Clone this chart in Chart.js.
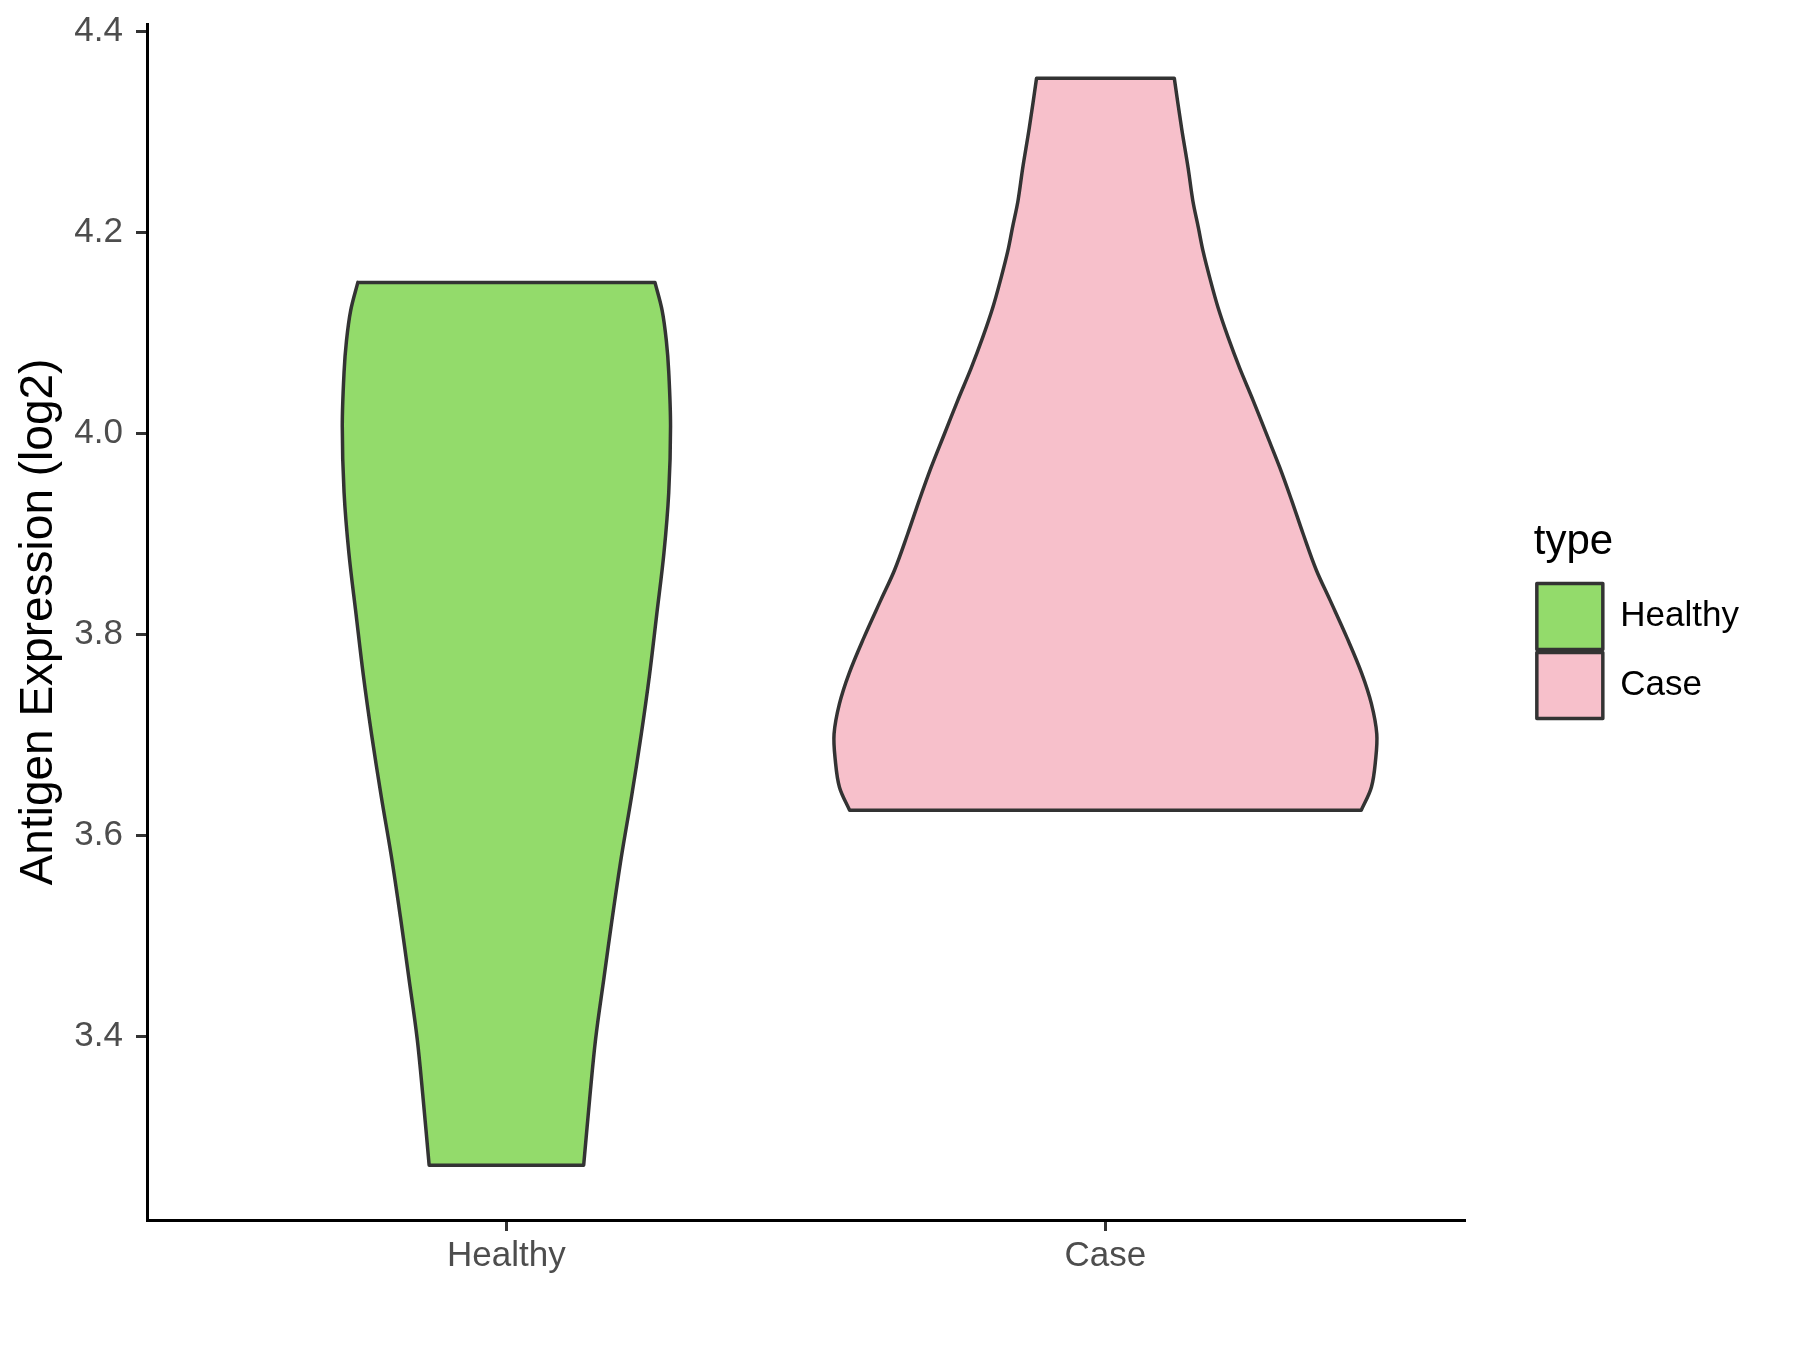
<!DOCTYPE html>
<html>
<head>
<meta charset="utf-8">
<title>Antigen Expression violin</title>
<script src="https://cdn.jsdelivr.net/npm/chart.js@4.4.1/dist/chart.umd.min.js"></script>
<style>
    html, body { margin: 0; padding: 0; background: #ffffff; }
    #wrap { width: 1800px; height: 1350px; }
</style>
</head>
<body>
<div id="wrap"><canvas id="violinCanvas" width="1800" height="1350"></canvas></div>
<script>
// groups on the x axis (position 1 and 2)
const groups = ['Healthy', 'Case'];
const groupPositions = [1, 2];

// violin outlines: y value (top to bottom) and half width in x units
const healthyY = [4.150, 4.122, 4.092, 4.061, 4.007, 3.941, 3.881, 3.820, 3.760, 3.700, 3.639, 3.579, 3.519, 3.459, 3.398, 3.338, 3.272];
const healthyHalfWidth = [0.248, 0.260, 0.267, 0.271, 0.274, 0.271, 0.263, 0.251, 0.239, 0.225, 0.209, 0.192, 0.177, 0.163, 0.149, 0.139, 0.129];

const caseY = [4.353, 4.304, 4.264, 4.231, 4.205, 4.181, 4.155, 4.125, 4.095, 4.065, 4.032, 3.999, 3.966,
               3.933, 3.900, 3.864, 3.834, 3.797, 3.761, 3.731, 3.701, 3.675, 3.648, 3.625];
const caseHalfWidth = [0.115, 0.127, 0.138, 0.146, 0.155, 0.163, 0.174, 0.188, 0.205, 0.224, 0.247, 0.269, 0.291,
                       0.311, 0.330, 0.352, 0.375, 0.403, 0.428, 0.444, 0.453, 0.451, 0.444, 0.427];

// axis ticks
const yTicks = [3.4, 3.6, 3.8, 4.0, 4.2, 4.4];

document.addEventListener('DOMContentLoaded', function() {
    Chart.defaults.font.family = "'Liberation Sans', Arial, sans-serif";
    Chart.defaults.color = '#000000';

    // closed outline: top edge, right side down, bottom edge, left side up.
    // corner points are doubled so the top and bottom edges stay straight
    function violinOutline(center, ys, half) {
        const n = ys.length;
        const pts = [];
        pts.push({x: center - half[0], y: ys[0]});
        pts.push({x: center + half[0], y: ys[0]});
        pts.push({x: center + half[0], y: ys[0]});
        for (let i = 1; i < n - 1; i++) {
            pts.push({x: center + half[i], y: ys[i]});
        }
        pts.push({x: center + half[n - 1], y: ys[n - 1]});
        pts.push({x: center + half[n - 1], y: ys[n - 1]});
        pts.push({x: center - half[n - 1], y: ys[n - 1]});
        pts.push({x: center - half[n - 1], y: ys[n - 1]});
        for (let i = n - 2; i > 0; i--) {
            pts.push({x: center - half[i], y: ys[i]});
        }
        pts.push({x: center - half[0], y: ys[0]});
        return pts;
    }

    const fills = ['#93DB6B', '#F7C0CB'];
    const outlines = [
        violinOutline(groupPositions[0], healthyY, healthyHalfWidth),
        violinOutline(groupPositions[1], caseY, caseHalfWidth)
    ];

    const datasets = groups.map((name, i) => ({
        label: name,
        data: outlines[i],
        backgroundColor: fills[i],
        borderColor: '#333333',
        borderWidth: 3.5,
        borderCapStyle: 'round',
        borderJoinStyle: 'round',
        fill: 'shape',
        tension: 0.35,
        pointRadius: 0,
        pointHoverRadius: 0
    }));

    const tickGrid = {
        display: true,
        drawOnChartArea: false,
        drawTicks: true,
        tickLength: 11,
        color: '#333333',
        lineWidth: 3
    };

    const ctx = document.getElementById('violinCanvas').getContext('2d');
    new Chart(ctx, {
        type: 'line',
        data: { datasets: datasets },
        options: {
            responsive: false,
            animation: false,
            layout: { padding: { top: 24, right: 51, bottom: 0, left: 0 } },
            plugins: {
                tooltip: { enabled: false },
                legend: {
                    display: true,
                    position: 'right',
                    align: 'start',
                    title: {
                        display: true,
                        text: 'type',
                        position: 'start',
                        color: '#000000',
                        font: { size: 42, lineHeight: 1.2 },
                        padding: { top: 497, bottom: 9 }
                    },
                    labels: {
                        boxWidth: 66,
                        boxHeight: 66,
                        padding: 3,
                        color: '#000000',
                        font: { size: 35 }
                    }
                }
            },
            scales: {
                x: {
                    type: 'linear',
                    min: 0.4,
                    max: 2.6,
                    afterBuildTicks: axis => { axis.ticks = groupPositions.map(v => ({value: v})); },
                    afterFit: scale => { scale.height = 130; },
                    ticks: {
                        color: '#4D4D4D',
                        font: { size: 35 },
                        padding: 4,
                        maxRotation: 0,
                        callback: value => groups[groupPositions.indexOf(value)]
                    },
                    grid: tickGrid,
                    border: { display: true, color: '#000000', width: 3 }
                },
                y: {
                    type: 'linear',
                    min: 3.2175,
                    max: 4.407,
                    afterBuildTicks: axis => { axis.ticks = yTicks.map(v => ({value: v})); },
                    afterFit: scale => {
                        scale.width = 147;
                        scale.paddingTop = 0;
                        scale.paddingBottom = 0;
                    },
                    ticks: {
                        color: '#4D4D4D',
                        font: { size: 35 },
                        padding: 13,
                        callback: value => Number(value).toFixed(1)
                    },
                    grid: tickGrid,
                    border: { display: true, color: '#000000', width: 3 },
                    title: {
                        display: true,
                        text: 'Antigen Expression (log2)',
                        color: '#000000',
                        font: { size: 46 },
                        padding: { top: 12, bottom: 0 }
                    }
                },
                // empty spacer between the panel and the legend
                gap: {
                    axis: 'y',
                    position: 'right',
                    display: true,
                    afterFit: scale => { scale.width = 69; },
                    ticks: { display: false },
                    grid: { display: false },
                    border: { display: false }
                }
            }
        }
    });
});
</script>
</body>
</html>
